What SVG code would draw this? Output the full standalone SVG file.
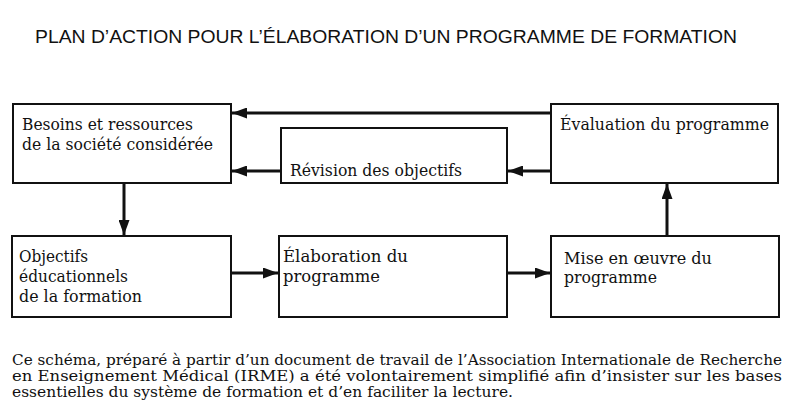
<svg xmlns="http://www.w3.org/2000/svg" width="790" height="420" viewBox="0 0 790 420">
<defs>
<style>
.box{fill:#fff;stroke:#111;stroke-width:2}
.t{font-family:"DejaVu Serif","Liberation Serif",serif;font-size:16.5px;fill:#111}
.ttl{font-family:"Liberation Sans",Arial,sans-serif;font-size:17.5px;fill:#111}
.cap{font-family:"DejaVu Serif","Liberation Serif",serif;font-size:14px;fill:#111}
.c{fill:none;stroke:#111;stroke-width:3}
</style>
<marker id="ah" markerUnits="userSpaceOnUse" markerWidth="15" markerHeight="11" refX="15" refY="5.5" orient="auto">
<path d="M0,0 L15,5.5 L0,11 z" fill="#111"/>
</marker>
</defs>
<rect width="790" height="420" fill="#fff"/>
<text class="ttl" x="35" y="43" textLength="702" lengthAdjust="spacingAndGlyphs">PLAN D’ACTION POUR L’ÉLABORATION D’UN PROGRAMME DE FORMATION</text>

<g id="connectors">
<path class="c" d="M551,113 L232,113" marker-end="url(#ah)"/>
<path class="c" d="M281,171 L232,171" marker-end="url(#ah)"/>
<path class="c" d="M551,171 L508,171" marker-end="url(#ah)"/>
<path class="c" d="M124,184 L124,235" marker-end="url(#ah)"/>
<path class="c" d="M231,273 L278,273" marker-end="url(#ah)"/>
<path class="c" d="M507,273 L550,273" marker-end="url(#ah)"/>
<path class="c" d="M667,236 L667,184" marker-end="url(#ah)"/>
</g>

<g id="besoins">
<rect class="box" x="13" y="104" width="218" height="79"/>
<text class="t" x="22" y="130" textLength="171" lengthAdjust="spacingAndGlyphs">Besoins et ressources</text>
<text class="t" x="22" y="150" textLength="191" lengthAdjust="spacingAndGlyphs">de la société considérée</text>
</g>
<g id="revision">
<rect class="box" x="281" y="128" width="226" height="55"/>
<text class="t" x="290" y="176" textLength="172" lengthAdjust="spacingAndGlyphs">Révision des objectifs</text>
</g>
<g id="evaluation">
<rect class="box" x="551" y="104" width="227" height="79"/>
<text class="t" x="560" y="130" textLength="209" lengthAdjust="spacingAndGlyphs">Évaluation du programme</text>
</g>
<g id="objectifs">
<rect class="box" x="12" y="236" width="219" height="81"/>
<text class="t" x="19" y="262" textLength="69" lengthAdjust="spacingAndGlyphs">Objectifs</text>
<text class="t" x="19" y="282" textLength="109" lengthAdjust="spacingAndGlyphs">éducationnels</text>
<text class="t" x="19" y="302" textLength="123" lengthAdjust="spacingAndGlyphs">de la formation</text>
</g>
<g id="elaboration">
<rect class="box" x="279" y="236" width="228" height="81"/>
<text class="t" x="283" y="262" textLength="125" lengthAdjust="spacingAndGlyphs">Élaboration du</text>
<text class="t" x="283" y="282" textLength="97" lengthAdjust="spacingAndGlyphs">programme</text>
</g>
<g id="mise">
<rect class="box" x="551" y="236" width="228" height="81"/>
<text class="t" x="564" y="264" textLength="148" lengthAdjust="spacingAndGlyphs">Mise en œuvre du</text>
<text class="t" x="564" y="283" textLength="93" lengthAdjust="spacingAndGlyphs">programme</text>
</g>

<text class="cap" x="12" y="365" textLength="770" lengthAdjust="spacingAndGlyphs">Ce schéma, préparé à partir d’un document de travail de l’Association Internationale de Recherche</text>
<text class="cap" x="12" y="381" textLength="770" lengthAdjust="spacingAndGlyphs">en Enseignement Médical (IRME) a été volontairement simplifié afin d’insister sur les bases</text>
<text class="cap" x="12" y="397" textLength="501" lengthAdjust="spacingAndGlyphs">essentielles du système de formation et d’en faciliter la lecture.</text>
</svg>
